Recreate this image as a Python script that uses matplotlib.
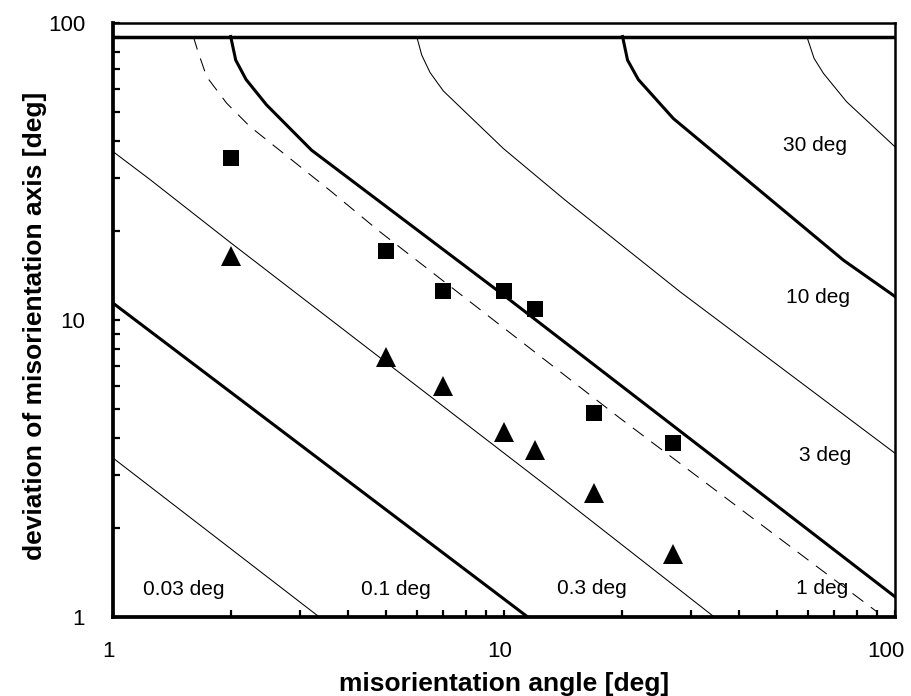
import matplotlib
matplotlib.use("Agg")
import matplotlib.pyplot as plt
from matplotlib.ticker import LogLocator, FixedLocator, FixedFormatter, NullFormatter
from matplotlib.transforms import ScaledTranslation

plt.rcParams['font.family'] = ['Liberation Sans', 'DejaVu Sans']

# ---- data ----
line_003_x = [1.0, 3.37]
line_003_y = [3.43, 1.0]

line_01_x = [1.0, 11.5]
line_01_y = [11.4, 1.0]

line_03_x = [1.0, 1.24, 2.0, 13.1, 34.5]
line_03_y = [36.9, 29.8, 18.2, 2.71, 1.0]

line_1_x = [2.0, 2.06, 2.19, 2.47, 3.22, 10.0, 100.0]
line_1_y = [90.0, 75.0, 64.5, 53.0, 37.3, 12.1, 1.17]

line_3_x = [5.98, 6.16, 6.47, 7.0, 9.96, 14.3, 28.2, 100.0]
line_3_y = [90.0, 78.0, 68.1, 59.0, 37.8, 25.4, 12.45, 3.56]

line_10_x = [20.1, 20.7, 22.06, 27.1, 73.8, 100.0]
line_10_y = [90.0, 75.0, 64.5, 47.7, 15.9, 12.0]

line_30_x = [59.5, 62.1, 65.6, 75.2, 100.0]
line_30_y = [90.0, 76.0, 67.7, 54.3, 38.3]

dashed_x = [1.605, 1.65, 1.736, 1.953, 2.24, 2.73, 3.6, 4.82, 19.8, 90.0]
dashed_y = [90.0, 80.0, 65.9, 53.7, 44.8, 36.4, 27.2, 19.8, 4.67, 1.04]

limit_x = [1.0, 100.0]
limit_y = [90.0, 90.0]

square_x = [2, 5, 7, 10, 12, 17, 27]
square_y = [35.2, 17.1, 12.5, 12.5, 10.9, 4.85, 3.86]

triangle_x = [2, 5, 7, 10, 12, 17, 27]
triangle_y = [16.4, 7.49, 5.98, 4.21, 3.64, 2.62, 1.63]

contour_labels = ["0.03 deg", "0.1 deg", "0.3 deg", "1 deg", "3 deg", "10 deg", "30 deg"]
tick_values = [1, 10, 100]
tick_labels = ["1", "10", "100"]

fig = plt.figure(figsize=(9.12, 6.96), dpi=100)
ax = fig.add_axes([113/912, 1-617/696, (895-113)/912, (617-23)/696])
ax.set_xscale('log')
ax.set_yscale('log')
ax.set_xlim(1, 100)
ax.set_ylim(1, 100)

thin = 0.75
bold = 2.2
ax.plot(line_003_x, line_003_y, color='black', lw=thin)
ax.plot(line_01_x, line_01_y, color='black', lw=bold)
ax.plot(line_03_x, line_03_y, color='black', lw=thin)
ax.plot(line_1_x, line_1_y, color='black', lw=bold)
ax.plot(line_3_x, line_3_y, color='black', lw=thin)
ax.plot(line_10_x, line_10_y, color='black', lw=bold)
ax.plot(line_30_x, line_30_y, color='black', lw=thin)
ax.plot(dashed_x, dashed_y, color='black', lw=0.75, dashes=(13, 9))
ax.plot(limit_x, limit_y, color='black', lw=2.5, solid_capstyle='butt')

ax.plot(square_x, square_y, ls='none', marker='s', ms=11.5, color='black', mew=0)
ax.plot(triangle_x, triangle_y, ls='none', marker='^', ms=14, color='black', mew=0)

fs = 15
ax.text(1.52, 1.233, contour_labels[0], fontsize=fs, ha='center', va='center')
ax.text(5.29, 1.233, contour_labels[1], fontsize=fs, ha='center', va='center')
ax.text(16.8, 1.243, contour_labels[2], fontsize=fs, ha='center', va='center')
ax.text(65.1, 1.243, contour_labels[3], fontsize=fs, ha='center', va='center')
ax.text(66.2, 3.51, contour_labels[4], fontsize=fs, ha='center', va='center')
ax.text(63.6, 11.95, contour_labels[5], fontsize=fs, ha='center', va='center')
ax.text(62.4, 38.8, contour_labels[6], fontsize=fs, ha='center', va='center')

for axis in (ax.xaxis, ax.yaxis):
    axis.set_major_locator(FixedLocator(tick_values))
    axis.set_major_formatter(FixedFormatter(tick_labels))
    axis.set_minor_locator(LogLocator(base=10, subs=range(2, 10)))
    axis.set_minor_formatter(NullFormatter())

ax.tick_params(which='both', direction='in', length=5, width=1.6, top=False, right=False)
ax.tick_params(axis='x', which='major', labelsize=16, pad=17)
ax.tick_params(axis='y', which='major', labelsize=16, pad=20)

ax.spines['left'].set_linewidth(2.7)
ax.spines['bottom'].set_linewidth(2.7)
ax.spines['top'].set_linewidth(1.8)
ax.spines['right'].set_linewidth(1.8)

ax.set_xlabel('misorientation angle [deg]', fontsize=19, fontweight='bold')
ax.set_ylabel('deviation of misorientation axis [deg]', fontsize=19, fontweight='bold')
ax.xaxis.set_label_coords(0.5, -0.092)
ax.yaxis.set_label_coords(-0.085, 0.49)

fig.canvas.draw()
shifts = {"1": -4, "10": -4, "100": -9}
for lab in ax.get_xticklabels():
    dx = shifts.get(lab.get_text(), -4)
    lab.set_transform(lab.get_transform() + ScaledTranslation(dx / 100, 0, fig.dpi_scale_trans))

fig.savefig('out.png', dpi=100)
